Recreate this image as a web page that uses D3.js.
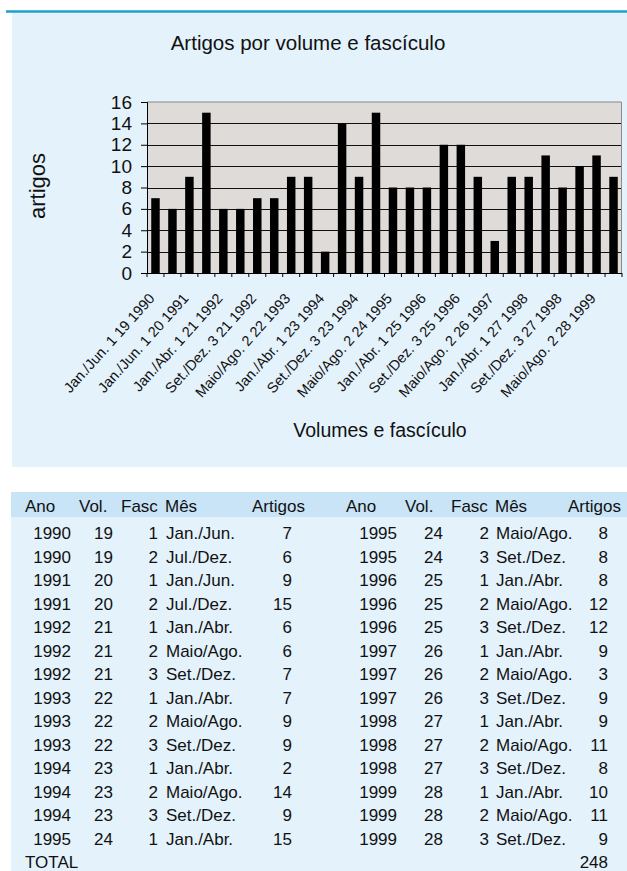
<!DOCTYPE html>
<html>
<head>
<meta charset="utf-8">
<script src="https://cdn.jsdelivr.net/npm/d3@7/dist/d3.min.js"></script>
<style>
  html, body { margin: 0; padding: 0; background: #ffffff; }
  svg { display: block; font-family: "Liberation Sans", Arial, sans-serif; }
</style>
</head>
<body>
<svg id="chart" width="627" height="871"></svg>
<script>
// ---- data ----
const years   = [1990,1990,1991,1991,1992,1992,1992,1993,1993,1993,1994,1994,1994,1995,1995,1995,1996,1996,1996,1997,1997,1997,1998,1998,1998,1999,1999,1999];
const volumes = [19,19,20,20,21,21,21,22,22,22,23,23,23,24,24,24,25,25,25,26,26,26,27,27,27,28,28,28];
const fascs   = [1,2,1,2,1,2,3,1,2,3,1,2,3,1,2,3,1,2,3,1,2,3,1,2,3,1,2,3];
const months  = ["Jan./Jun.","Jul./Dez.","Jan./Jun.","Jul./Dez.",
                 "Jan./Abr.","Maio/Ago.","Set./Dez.","Jan./Abr.","Maio/Ago.","Set./Dez.",
                 "Jan./Abr.","Maio/Ago.","Set./Dez.","Jan./Abr.","Maio/Ago.","Set./Dez.",
                 "Jan./Abr.","Maio/Ago.","Set./Dez.","Jan./Abr.","Maio/Ago.","Set./Dez.",
                 "Jan./Abr.","Maio/Ago.","Set./Dez.","Jan./Abr.","Maio/Ago.","Set./Dez."];
const artigos = [7,6,9,15,6,6,7,7,9,9,2,14,9,15,8,8,8,12,12,9,3,9,9,11,8,10,11,9];
const yTicks  = [0,2,4,6,8,10,12,14,16];
const headers = ["Ano","Vol.","Fasc","Mês","Artigos"];
const chartTitle = "Artigos por volume e fascículo";
const xTitle = "Volumes e fascículo";
const yTitle = "artigos";
const totalLabel = "TOTAL";

const categories = years.map((y, i) => `${months[i]} ${fascs[i]} ${volumes[i]} ${y}`);

const svg = d3.select("#chart");

// ---- panel ----
svg.append("rect").attr("x", 12).attr("y", 12).attr("width", 615).attr("height", 455).attr("fill", "#e4f2fc");
svg.append("line").attr("x1", 6).attr("x2", 627).attr("y1", 11.5).attr("y2", 11.5)
  .attr("stroke", "#1ea0cc").attr("stroke-width", 2.5);

svg.append("text").attr("x", 308).attr("y", 50).attr("text-anchor", "middle")
  .attr("font-size", 20.5).attr("fill", "#111").text(chartTitle);

// ---- scales ----
const x = d3.scaleBand().domain(d3.range(categories.length)).range([147, 622]).paddingInner(0.5).paddingOuter(0.25);
const y = d3.scaleLinear().domain([0, 16]).range([273, 102]);

// plot background
svg.append("rect").attr("x", 147).attr("y", y(16)).attr("width", 622 - 147).attr("height", y(0) - y(16)).attr("fill", "#dfdbd9");

// gridlines
svg.append("g").selectAll("line").data(yTicks.filter(t => t > 0 && t < 16)).join("line")
  .attr("x1", 147).attr("x2", 622).attr("y1", d => Math.round(y(d)) + 0.5).attr("y2", d => Math.round(y(d)) + 0.5)
  .attr("stroke", "#111").attr("stroke-width", 1);

// border top/right
svg.append("path").attr("d", `M147,${y(16)}H621.5V${y(0)}`).attr("fill", "none").attr("stroke", "#8a8a8a").attr("stroke-width", 1);

// bars
svg.append("g").selectAll("rect").data(artigos).join("rect")
  .attr("x", (d, i) => x(i)).attr("width", x.bandwidth())
  .attr("y", d => y(d)).attr("height", d => y(0) - y(d))
  .attr("fill", "#000");

// y axis
const yAxis = d3.axisLeft(y).tickValues(yTicks).tickSize(6).tickPadding(9).tickFormat(d3.format("d"));
const gy = svg.append("g").attr("transform", "translate(147,0)").call(yAxis);
gy.select(".domain").attr("stroke", "#000");
gy.selectAll(".tick line").attr("stroke", "#000");
gy.selectAll(".tick text").attr("font-size", 19).attr("fill", "#111").attr("font-family", "Liberation Sans, Arial, sans-serif");

// x axis: ticks at band boundaries
const step = x.step();
const boundaries = d3.range(categories.length + 1).map(i => 147 + i * step);
svg.append("line").attr("x1", 147).attr("x2", 622).attr("y1", 273.5).attr("y2", 273.5).attr("stroke", "#000");
svg.append("g").selectAll("line").data(boundaries).join("line")
  .attr("x1", d => d).attr("x2", d => d).attr("y1", 273).attr("y2", 277).attr("stroke", "#000");

// x labels (every other category)
svg.append("g").selectAll("text").data(categories.map((c, i) => ({ c, i })).filter(d => d.i % 2 === 0)).join("text")
  .attr("transform", d => `translate(${x(d.i) + x.bandwidth() / 2},${299}) rotate(-48)`)
  .attr("text-anchor", "end").attr("font-size", 14.5).attr("fill", "#111")
  .text(d => d.c);

svg.append("text").attr("x", 380).attr("y", 437).attr("text-anchor", "middle")
  .attr("font-size", 19.5).attr("fill", "#111").text(xTitle);
svg.append("text").attr("transform", "translate(45,186) rotate(-90)").attr("text-anchor", "middle")
  .attr("font-size", 22).attr("fill", "#111").text(yTitle);

// ---- table ----
svg.append("rect").attr("x", 11).attr("y", 492).attr("width", 616).attr("height", 25).attr("fill", "#c8e4f6");
svg.append("rect").attr("x", 11).attr("y", 517).attr("width", 616).attr("height", 354).attr("fill", "#e4f2fc");

const half = 14;
const leftCols  = { hdr: [25, 79, 121, 165, 252], val: [71, 113, 158, 166, 292] };
const rightCols = { hdr: [346, 405, 451, 495, 568], val: [397, 443, 489, 496, 608] };
const fs = 17;
const tbl = svg.append("g").attr("font-size", fs).attr("fill", "#111");

[leftCols, rightCols].forEach(cols => {
  headers.forEach((h, j) => {
    tbl.append("text").attr("x", cols.hdr[j]).attr("y", 512).text(h);
  });
});

years.forEach((yr, i) => {
  const cols = i < half ? leftCols : rightCols;
  const r = i % half;
  const yy = 539 + r * 23.5;
  const vals = [yr, volumes[i], fascs[i], months[i], artigos[i]];
  vals.forEach((v, j) => {
    tbl.append("text").attr("x", cols.val[j]).attr("y", yy)
      .attr("text-anchor", j === 3 ? "start" : "end").text(v);
  });
});

tbl.append("text").attr("x", 25).attr("y", 868).text(totalLabel);
tbl.append("text").attr("x", rightCols.val[4]).attr("y", 868).attr("text-anchor", "end").text(d3.sum(artigos));
</script>
</body>
</html>
